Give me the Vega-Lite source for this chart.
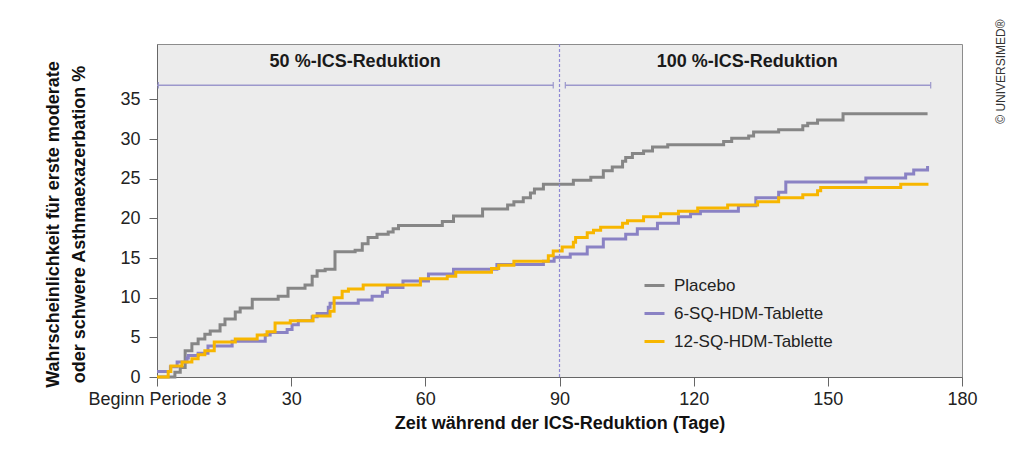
{
  "$schema": "https://vega.github.io/schema/vega-lite/v6.json",
  "width": 805,
  "height": 333,
  "autosize": {"type": "none"},
  "padding": {"left": 157, "top": 44, "right": 62, "bottom": 91},
  "background": "white",
  "config": {
    "font": "Liberation Sans",
    "view": {"fill": "#ececec", "stroke": "#8c8c8c", "strokeWidth": 1}
  },
  "title": {
    "text": "© UNIVERSIMED®",
    "orient": "right",
    "anchor": "start",
    "angle": -90,
    "align": "right",
    "baseline": "middle",
    "fontSize": 12,
    "fontWeight": "normal",
    "color": "#333333",
    "offset": 12,
    "dx": 24
  },
  "layer": [
    {
      "data": {
        "values": [
          {"group": "Placebo", "day": 0, "pct": 0},
          {"group": "Placebo", "day": 4.0, "pct": 0.6},
          {"group": "Placebo", "day": 5.2, "pct": 1.2},
          {"group": "Placebo", "day": 6.3, "pct": 3.3},
          {"group": "Placebo", "day": 7.8, "pct": 4.2},
          {"group": "Placebo", "day": 9.2, "pct": 4.8},
          {"group": "Placebo", "day": 10.7, "pct": 5.4},
          {"group": "Placebo", "day": 11.9, "pct": 5.8},
          {"group": "Placebo", "day": 14.1, "pct": 6.6},
          {"group": "Placebo", "day": 15.2, "pct": 7.3},
          {"group": "Placebo", "day": 17.5, "pct": 8.2},
          {"group": "Placebo", "day": 18.6, "pct": 8.7},
          {"group": "Placebo", "day": 21.3, "pct": 9.8},
          {"group": "Placebo", "day": 27.1, "pct": 10.2},
          {"group": "Placebo", "day": 29.3, "pct": 11.2},
          {"group": "Placebo", "day": 33.1, "pct": 11.6},
          {"group": "Placebo", "day": 34.7, "pct": 12.7},
          {"group": "Placebo", "day": 35.8, "pct": 13.4},
          {"group": "Placebo", "day": 37.6, "pct": 13.6},
          {"group": "Placebo", "day": 39.8, "pct": 15.8},
          {"group": "Placebo", "day": 44.3, "pct": 16.0},
          {"group": "Placebo", "day": 45.9, "pct": 16.8},
          {"group": "Placebo", "day": 47.2, "pct": 17.6},
          {"group": "Placebo", "day": 49.2, "pct": 18.0},
          {"group": "Placebo", "day": 51.7, "pct": 18.3},
          {"group": "Placebo", "day": 52.8, "pct": 18.7},
          {"group": "Placebo", "day": 54.0, "pct": 19.1},
          {"group": "Placebo", "day": 63.8, "pct": 19.6},
          {"group": "Placebo", "day": 66.3, "pct": 20.3},
          {"group": "Placebo", "day": 72.8, "pct": 21.2},
          {"group": "Placebo", "day": 78.4, "pct": 21.7},
          {"group": "Placebo", "day": 79.8, "pct": 22.1},
          {"group": "Placebo", "day": 81.9, "pct": 22.6},
          {"group": "Placebo", "day": 83.5, "pct": 23.2},
          {"group": "Placebo", "day": 84.4, "pct": 23.7},
          {"group": "Placebo", "day": 86.4, "pct": 24.3},
          {"group": "Placebo", "day": 93.1, "pct": 24.8},
          {"group": "Placebo", "day": 97.0, "pct": 25.2},
          {"group": "Placebo", "day": 99.8, "pct": 26.0},
          {"group": "Placebo", "day": 101.8, "pct": 26.5},
          {"group": "Placebo", "day": 104.1, "pct": 27.2},
          {"group": "Placebo", "day": 104.8, "pct": 27.7},
          {"group": "Placebo", "day": 106.3, "pct": 28.2},
          {"group": "Placebo", "day": 108.8, "pct": 28.5},
          {"group": "Placebo", "day": 110.8, "pct": 29.0},
          {"group": "Placebo", "day": 114.2, "pct": 29.3},
          {"group": "Placebo", "day": 126.7, "pct": 29.7},
          {"group": "Placebo", "day": 128.5, "pct": 30.1},
          {"group": "Placebo", "day": 132.3, "pct": 30.4},
          {"group": "Placebo", "day": 133.4, "pct": 30.9},
          {"group": "Placebo", "day": 139.0, "pct": 31.2},
          {"group": "Placebo", "day": 144.4, "pct": 31.7},
          {"group": "Placebo", "day": 145.5, "pct": 32.0},
          {"group": "Placebo", "day": 147.7, "pct": 32.4},
          {"group": "Placebo", "day": 153.4, "pct": 33.2},
          {"group": "Placebo", "day": 172.3, "pct": 33.2},
          {"group": "6-SQ-HDM-Tablette", "day": 0, "pct": 0.7},
          {"group": "6-SQ-HDM-Tablette", "day": 3.0, "pct": 1.3},
          {"group": "6-SQ-HDM-Tablette", "day": 4.5, "pct": 1.9},
          {"group": "6-SQ-HDM-Tablette", "day": 6.7, "pct": 2.4},
          {"group": "6-SQ-HDM-Tablette", "day": 7.0, "pct": 2.7},
          {"group": "6-SQ-HDM-Tablette", "day": 9.2, "pct": 3.0},
          {"group": "6-SQ-HDM-Tablette", "day": 11.4, "pct": 3.9},
          {"group": "6-SQ-HDM-Tablette", "day": 16.8, "pct": 4.5},
          {"group": "6-SQ-HDM-Tablette", "day": 24.2, "pct": 5.3},
          {"group": "6-SQ-HDM-Tablette", "day": 25.3, "pct": 5.6},
          {"group": "6-SQ-HDM-Tablette", "day": 29.1, "pct": 6.0},
          {"group": "6-SQ-HDM-Tablette", "day": 30.2, "pct": 6.6},
          {"group": "6-SQ-HDM-Tablette", "day": 31.6, "pct": 7.1},
          {"group": "6-SQ-HDM-Tablette", "day": 34.7, "pct": 7.6},
          {"group": "6-SQ-HDM-Tablette", "day": 35.8, "pct": 8.0},
          {"group": "6-SQ-HDM-Tablette", "day": 38.3, "pct": 8.8},
          {"group": "6-SQ-HDM-Tablette", "day": 38.7, "pct": 9.3},
          {"group": "6-SQ-HDM-Tablette", "day": 45.0, "pct": 9.7},
          {"group": "6-SQ-HDM-Tablette", "day": 48.1, "pct": 10.2},
          {"group": "6-SQ-HDM-Tablette", "day": 50.4, "pct": 10.7},
          {"group": "6-SQ-HDM-Tablette", "day": 51.5, "pct": 11.3},
          {"group": "6-SQ-HDM-Tablette", "day": 55.0, "pct": 12.1},
          {"group": "6-SQ-HDM-Tablette", "day": 60.7, "pct": 13.0},
          {"group": "6-SQ-HDM-Tablette", "day": 66.3, "pct": 13.6},
          {"group": "6-SQ-HDM-Tablette", "day": 76.0, "pct": 14.2},
          {"group": "6-SQ-HDM-Tablette", "day": 86.4, "pct": 14.6},
          {"group": "6-SQ-HDM-Tablette", "day": 88.8, "pct": 15.1},
          {"group": "6-SQ-HDM-Tablette", "day": 92.4, "pct": 15.5},
          {"group": "6-SQ-HDM-Tablette", "day": 96.2, "pct": 16.4},
          {"group": "6-SQ-HDM-Tablette", "day": 99.8, "pct": 17.4},
          {"group": "6-SQ-HDM-Tablette", "day": 104.8, "pct": 18.0},
          {"group": "6-SQ-HDM-Tablette", "day": 107.4, "pct": 18.7},
          {"group": "6-SQ-HDM-Tablette", "day": 111.9, "pct": 19.4},
          {"group": "6-SQ-HDM-Tablette", "day": 116.6, "pct": 20.2},
          {"group": "6-SQ-HDM-Tablette", "day": 119.3, "pct": 20.6},
          {"group": "6-SQ-HDM-Tablette", "day": 121.5, "pct": 20.9},
          {"group": "6-SQ-HDM-Tablette", "day": 130.0, "pct": 21.6},
          {"group": "6-SQ-HDM-Tablette", "day": 133.9, "pct": 22.6},
          {"group": "6-SQ-HDM-Tablette", "day": 139.0, "pct": 23.3},
          {"group": "6-SQ-HDM-Tablette", "day": 140.6, "pct": 24.6},
          {"group": "6-SQ-HDM-Tablette", "day": 158.5, "pct": 25.1},
          {"group": "6-SQ-HDM-Tablette", "day": 167.4, "pct": 25.6},
          {"group": "6-SQ-HDM-Tablette", "day": 169.2, "pct": 26.1},
          {"group": "6-SQ-HDM-Tablette", "day": 172.3, "pct": 26.6},
          {"group": "12-SQ-HDM-Tablette", "day": 0, "pct": 0},
          {"group": "12-SQ-HDM-Tablette", "day": 2.5, "pct": 0.7},
          {"group": "12-SQ-HDM-Tablette", "day": 3.1, "pct": 1.4},
          {"group": "12-SQ-HDM-Tablette", "day": 5.6, "pct": 1.9},
          {"group": "12-SQ-HDM-Tablette", "day": 7.8, "pct": 2.3},
          {"group": "12-SQ-HDM-Tablette", "day": 9.2, "pct": 2.8},
          {"group": "12-SQ-HDM-Tablette", "day": 10.7, "pct": 3.3},
          {"group": "12-SQ-HDM-Tablette", "day": 12.8, "pct": 4.4},
          {"group": "12-SQ-HDM-Tablette", "day": 17.5, "pct": 4.8},
          {"group": "12-SQ-HDM-Tablette", "day": 22.4, "pct": 5.3},
          {"group": "12-SQ-HDM-Tablette", "day": 24.6, "pct": 5.7},
          {"group": "12-SQ-HDM-Tablette", "day": 26.4, "pct": 6.8},
          {"group": "12-SQ-HDM-Tablette", "day": 29.8, "pct": 7.1},
          {"group": "12-SQ-HDM-Tablette", "day": 34.9, "pct": 7.7},
          {"group": "12-SQ-HDM-Tablette", "day": 38.7, "pct": 8.3},
          {"group": "12-SQ-HDM-Tablette", "day": 39.6, "pct": 10.0},
          {"group": "12-SQ-HDM-Tablette", "day": 41.4, "pct": 10.8},
          {"group": "12-SQ-HDM-Tablette", "day": 42.8, "pct": 11.1},
          {"group": "12-SQ-HDM-Tablette", "day": 46.1, "pct": 11.6},
          {"group": "12-SQ-HDM-Tablette", "day": 58.9, "pct": 12.4},
          {"group": "12-SQ-HDM-Tablette", "day": 64.9, "pct": 12.7},
          {"group": "12-SQ-HDM-Tablette", "day": 66.8, "pct": 13.2},
          {"group": "12-SQ-HDM-Tablette", "day": 74.8, "pct": 13.7},
          {"group": "12-SQ-HDM-Tablette", "day": 76.4, "pct": 14.1},
          {"group": "12-SQ-HDM-Tablette", "day": 79.8, "pct": 14.6},
          {"group": "12-SQ-HDM-Tablette", "day": 87.5, "pct": 15.3},
          {"group": "12-SQ-HDM-Tablette", "day": 88.6, "pct": 15.9},
          {"group": "12-SQ-HDM-Tablette", "day": 90.6, "pct": 16.4},
          {"group": "12-SQ-HDM-Tablette", "day": 93.1, "pct": 17.0},
          {"group": "12-SQ-HDM-Tablette", "day": 93.6, "pct": 17.6},
          {"group": "12-SQ-HDM-Tablette", "day": 96.2, "pct": 18.2},
          {"group": "12-SQ-HDM-Tablette", "day": 97.6, "pct": 18.5},
          {"group": "12-SQ-HDM-Tablette", "day": 99.2, "pct": 18.9},
          {"group": "12-SQ-HDM-Tablette", "day": 104.1, "pct": 19.4},
          {"group": "12-SQ-HDM-Tablette", "day": 105.2, "pct": 19.7},
          {"group": "12-SQ-HDM-Tablette", "day": 108.8, "pct": 20.2},
          {"group": "12-SQ-HDM-Tablette", "day": 112.6, "pct": 20.6},
          {"group": "12-SQ-HDM-Tablette", "day": 116.6, "pct": 20.9},
          {"group": "12-SQ-HDM-Tablette", "day": 120.9, "pct": 21.3},
          {"group": "12-SQ-HDM-Tablette", "day": 127.6, "pct": 21.7},
          {"group": "12-SQ-HDM-Tablette", "day": 134.3, "pct": 22.1},
          {"group": "12-SQ-HDM-Tablette", "day": 139.0, "pct": 22.6},
          {"group": "12-SQ-HDM-Tablette", "day": 144.4, "pct": 23.0},
          {"group": "12-SQ-HDM-Tablette", "day": 147.7, "pct": 23.5},
          {"group": "12-SQ-HDM-Tablette", "day": 148.4, "pct": 23.9},
          {"group": "12-SQ-HDM-Tablette", "day": 166.3, "pct": 24.3},
          {"group": "12-SQ-HDM-Tablette", "day": 172.5, "pct": 24.3}
        ]
      },
      "mark": {"type": "line", "interpolate": "step-after", "strokeWidth": 3, "strokeJoin": "miter", "strokeCap": "butt"},
      "encoding": {
        "x": {
          "field": "day", "type": "quantitative",
          "scale": {"domain": [0, 180], "nice": false, "zero": false},
          "axis": {
            "values": [0, 30, 60, 90, 120, 150, 180],
            "labelExpr": "datum.value == 0 ? 'Beginn Periode 3' : datum.label",
            "grid": false,
            "domainColor": "#666666",
            "tickColor": "#666666",
            "tickSize": 9,
            "labelFontSize": 18,
            "labelColor": "#222222",
            "labelPadding": 4,
            "labelFlush": false,
            "labelOverlap": false,
            "title": "Zeit während der ICS-Reduktion (Tage)",
            "titleFontSize": 18,
            "titleFontWeight": "bold",
            "titleColor": "#111111",
            "titlePadding": 6
          }
        },
        "y": {
          "field": "pct", "type": "quantitative",
          "scale": {"domain": [0, 42], "nice": false},
          "axis": {
            "values": [0, 5, 10, 15, 20, 25, 30, 35],
            "grid": false,
            "domainColor": "#666666",
            "tickColor": "#666666",
            "tickSize": 8,
            "labelFontSize": 18,
            "labelColor": "#222222",
            "labelPadding": 9,
            "title": ["Wahrscheinlichkeit für erste moderate", "oder schwere Asthmaexazerbation %"],
            "titleFontSize": 18,
            "titleFontWeight": "bold",
            "titleColor": "#111111",
            "titleLineHeight": 26,
            "titlePadding": 31,
            "titleY": 180
          }
        },
        "color": {
          "field": "group", "type": "nominal",
          "scale": {
            "domain": ["Placebo", "6-SQ-HDM-Tablette", "12-SQ-HDM-Tablette"],
            "range": ["#868686", "#8a82c4", "#f7b600"]
          },
          "legend": {
            "orient": "none",
            "legendX": 486,
            "legendY": 230,
            "title": null,
            "symbolType": "stroke",
            "symbolStrokeWidth": 3,
            "symbolSize": 400,
            "labelFontSize": 17,
            "labelColor": "#222222",
            "labelOffset": 8,
            "rowPadding": 8,
            "padding": 0,
            "labelLimit": 300
          }
        }
      }
    },
    {
      "data": {"values": [{"day": 90, "pct": 0, "pct2": 42}]},
      "mark": {"type": "rule", "color": "#8e88d4", "strokeWidth": 1.2, "strokeDash": [3, 2]},
      "encoding": {
        "x": {"field": "day", "type": "quantitative"},
        "y": {"field": "pct", "type": "quantitative"},
        "y2": {"field": "pct2"}
      }
    },
    {
      "data": {"values": [
        {"day": 0, "day2": 88.6, "pct": 36.8},
        {"day": 91.3, "day2": 173.0, "pct": 36.8}
      ]},
      "mark": {"type": "rule", "color": "#9c98cc", "strokeWidth": 1.5},
      "encoding": {
        "x": {"field": "day", "type": "quantitative"},
        "x2": {"field": "day2"},
        "y": {"field": "pct", "type": "quantitative"}
      }
    },
    {
      "data": {"values": [
        {"day": 0.3, "pct": 36.4, "pct2": 37.2},
        {"day": 88.6, "pct": 36.4, "pct2": 37.2},
        {"day": 91.3, "pct": 36.4, "pct2": 37.2},
        {"day": 173.0, "pct": 36.4, "pct2": 37.2}
      ]},
      "mark": {"type": "rule", "color": "#9c98cc", "strokeWidth": 1.2},
      "encoding": {
        "x": {"field": "day", "type": "quantitative"},
        "y": {"field": "pct", "type": "quantitative"},
        "y2": {"field": "pct2"}
      }
    },
    {
      "data": {"values": [
        {"day": 44.3, "pct": 39.7, "label": "50 %-ICS-Reduktion"},
        {"day": 132.0, "pct": 39.7, "label": "100 %-ICS-Reduktion"}
      ]},
      "mark": {"type": "text", "fontSize": 18, "fontWeight": "bold", "color": "#1a1a1a", "align": "center", "baseline": "middle"},
      "encoding": {
        "x": {"field": "day", "type": "quantitative"},
        "y": {"field": "pct", "type": "quantitative"},
        "text": {"field": "label", "type": "nominal"}
      }
    }
  ]
}
